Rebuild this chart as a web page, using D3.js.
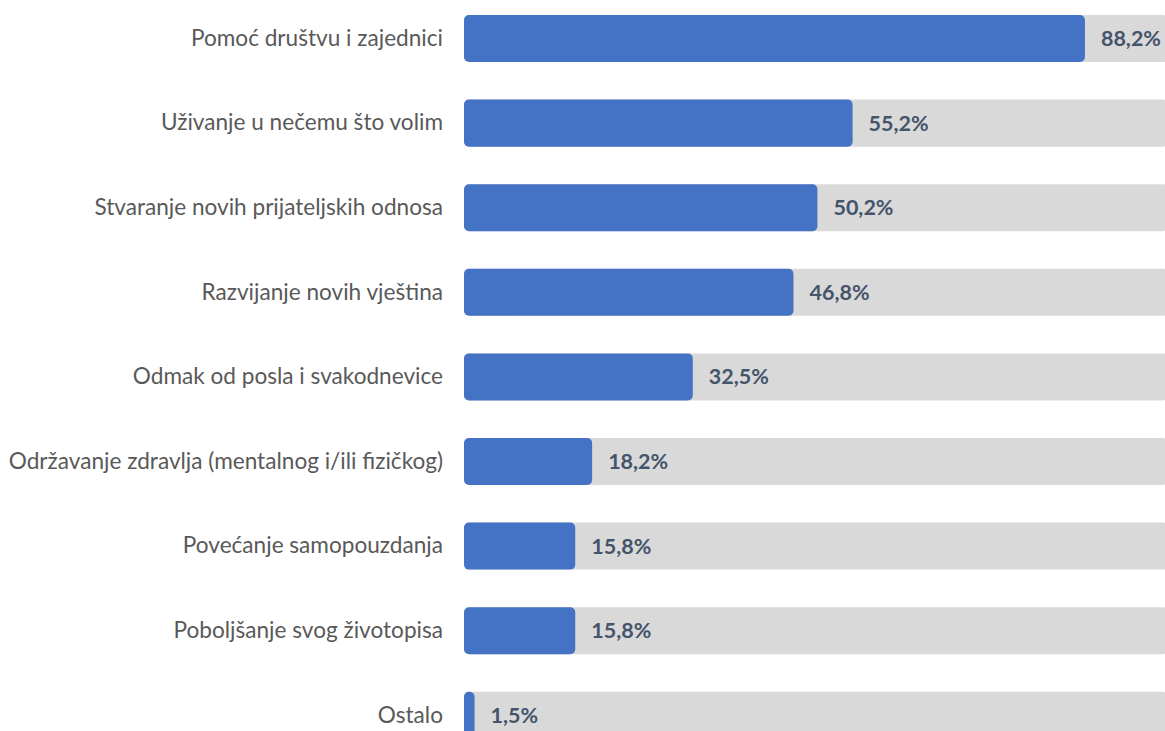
<!DOCTYPE html>
<html>
<head>
<meta charset="utf-8">
<script src="https://cdn.jsdelivr.net/npm/d3@7"></script>
<style>
  body { margin: 0; background: #fff; overflow: hidden; }
  svg { display: block; }
</style>
</head>
<body>
<svg></svg>
<script>
const categories = [
  "Pomoć društvu i zajednici",
  "Uživanje u nečemu što volim",
  "Stvaranje novih prijateljskih odnosa",
  "Razvijanje novih vještina",
  "Odmak od posla i svakodnevice",
  "Održavanje zdravlja (mentalnog i/ili fizičkog)",
  "Povećanje samopouzdanja",
  "Poboljšanje svog životopisa",
  "Ostalo"
];
const values = [88.2, 55.2, 50.2, 46.8, 32.5, 18.2, 15.8, 15.8, 1.5];

let width = 1165;
let height = 731;
let barLeft = 464;
let barRight = 1168;

const svg = d3.select("svg")
  .attr("width", width)
  .attr("height", height);

const xScale = d3.scaleLinear()
  .domain([0, 100])
  .range([barLeft, barRight]);

const yScale = d3.scaleBand()
  .domain(categories)
  .range([15, 738.8])
  .paddingInner(0.444)
  .paddingOuter(0);

const data = categories.map((c, i) => ({ name: c, value: values[i] }));

// grey track = 100%
svg.selectAll("rect.track")
  .data(data)
  .enter()
  .append("rect")
  .attr("class", "track")
  .attr("x", xScale(0))
  .attr("y", (d) => yScale(d.name))
  .attr("width", xScale(100) - xScale(0))
  .attr("height", yScale.bandwidth())
  .attr("rx", 5)
  .attr("fill", "#d9d9d9");

svg.selectAll("rect.bar")
  .data(data)
  .enter()
  .append("rect")
  .attr("class", "bar")
  .attr("x", xScale(0))
  .attr("y", (d) => yScale(d.name))
  .attr("width", (d) => xScale(d.value) - xScale(0))
  .attr("height", yScale.bandwidth())
  .attr("rx", 5)
  .attr("fill", "#4472c4");

svg.selectAll("text.value")
  .data(data)
  .enter()
  .append("text")
  .attr("class", "value")
  .attr("x", (d) => xScale(d.value) + 16)
  .attr("y", (d) => yScale(d.name) + yScale.bandwidth() / 2)
  .attr("dy", "0.35em")
  .attr("font-family", "Lato, sans-serif")
  .attr("font-size", 21.5)
  .attr("font-weight", "bold")
  .attr("fill", "#44546a")
  .text((d) => d.value.toFixed(1).replace(".", ",") + "%");

const yAxis = d3.axisLeft(yScale).tickSize(0).tickPadding(0);

svg.append("g")
  .attr("transform", `translate(${barLeft - 21}, 0)`)
  .call(yAxis)
  .call((g) => g.select(".domain").remove())
  .selectAll("text")
  .attr("font-family", "Lato, sans-serif")
  .attr("font-size", 22.6)
  .attr("fill", "#595959");
</script>
</body>
</html>
